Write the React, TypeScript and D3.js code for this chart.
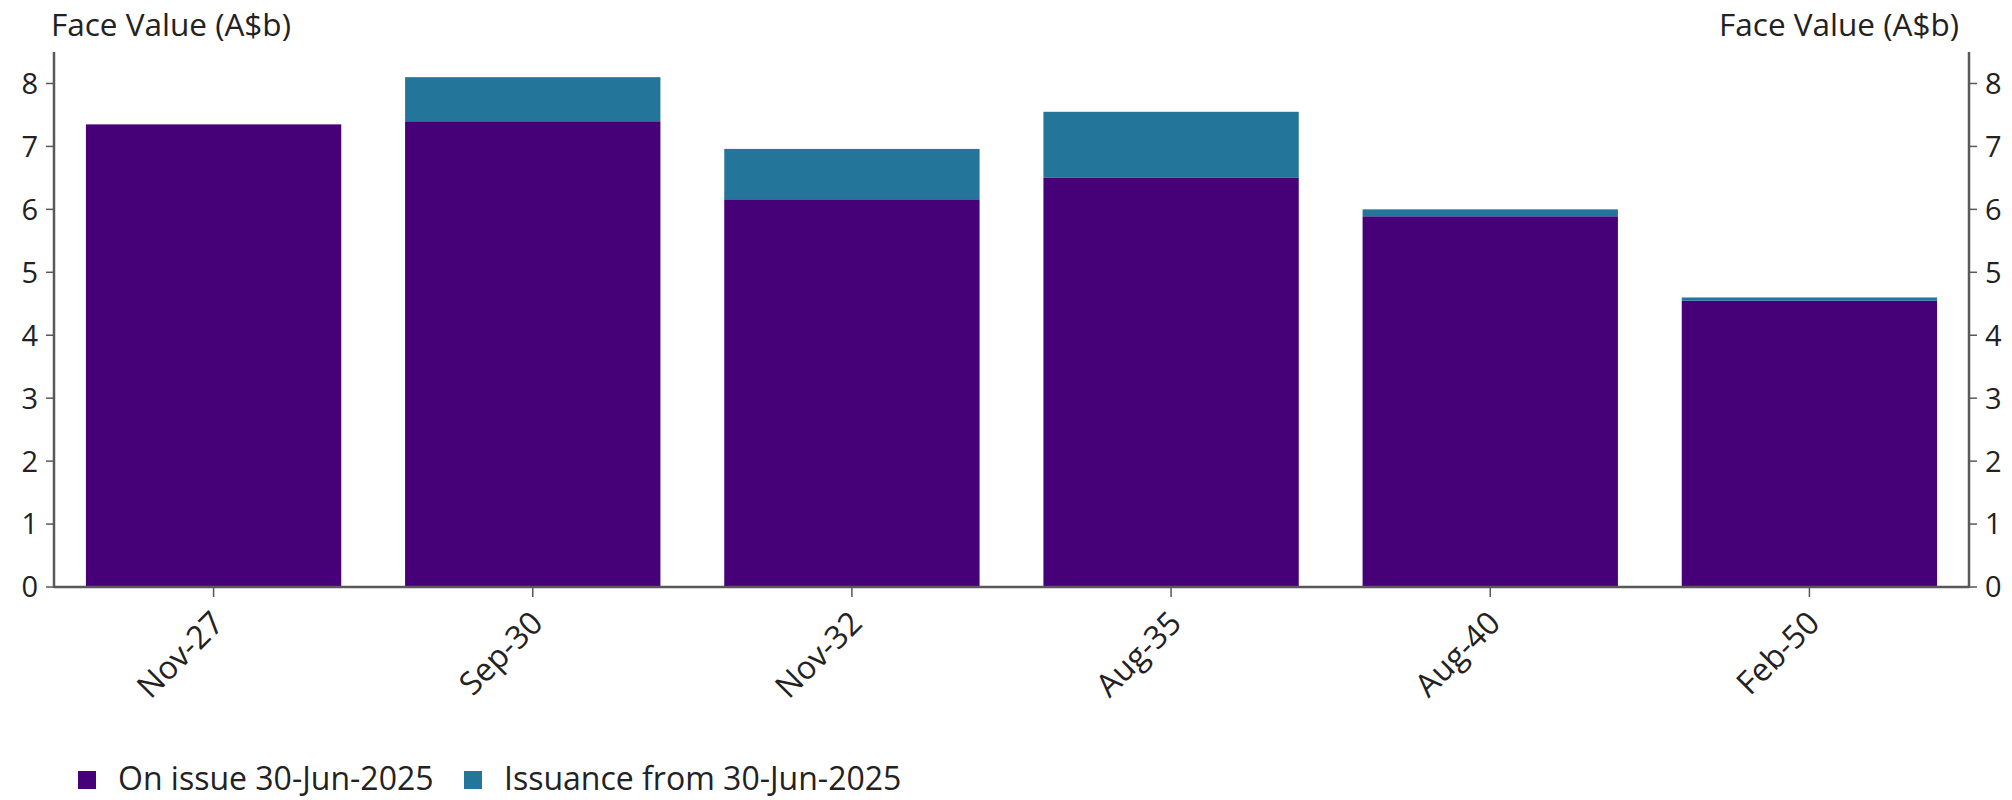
import React from "react";
import * as d3 from "d3";

const categories = ["Nov-27", "Sep-30", "Nov-32", "Aug-35", "Aug-40", "Feb-50"];
const onIssue = [7.35, 7.4, 6.16, 6.5, 5.89, 4.55];
const issuance = [0, 0.7, 0.8, 1.05, 0.11, 0.05];
const yTicks = [0, 1, 2, 3, 4, 5, 6, 7, 8];
const seriesNames = ["On issue 30-Jun-2025", "Issuance from 30-Jun-2025"];
const colors = ["#460078", "#237699"];

const W = 2012;
const H = 800;
const FONT = "'Open Sans', sans-serif";
const AXIS = "#595959";

export default function App() {
  const left = 54, right = 1969, top = 52, bottom = 587;
  const x = d3.scaleBand<string>().domain(categories).range([left, right]).paddingInner(0.2).paddingOuter(0.1);
  const y = d3.scaleLinear().domain([0, 8.5]).range([bottom, top]);
  const rows = categories.map((c, i) => ({ cat: c, onIssue: onIssue[i], issuance: issuance[i] }));
  const stack = d3.stack<any>().keys(["onIssue", "issuance"])(rows);

  return (
    <svg width={W} height={H} style={{ display: "block", position: "absolute", left: 0, top: 0 }} fontFamily={FONT}>
      <rect width={W} height={H} fill="#fff" />
      {stack.map((s, si) =>
        s.map((d, i) =>
          d[1] - d[0] > 0 ? (
            <rect key={`${si}-${i}`} x={x(categories[i])!} width={x.bandwidth()} y={y(d[1])} height={y(d[0]) - y(d[1])} fill={colors[si]} />
          ) : null
        )
      )}
      {/* axes */}
      <line x1={left} x2={left} y1={top} y2={bottom + 1} stroke={AXIS} strokeWidth={2.5} />
      <line x1={right} x2={right} y1={top} y2={bottom + 1} stroke={AXIS} strokeWidth={2.5} />
      <line x1={left} x2={right} y1={bottom} y2={bottom} stroke={AXIS} strokeWidth={2.5} />
      {yTicks.map((t) => (
        <g key={t}>
          <line x1={left - 8} x2={left} y1={y(t)} y2={y(t)} stroke={AXIS} strokeWidth={1.5} />
          <line x1={right} x2={right + 8} y1={y(t)} y2={y(t)} stroke={AXIS} strokeWidth={1.5} />
          <text x={38} y={y(t)} dy="0.36em" textAnchor="end" fontSize={29} fill="#222">{t}</text>
          <text x={1985} y={y(t)} dy="0.36em" textAnchor="start" fontSize={29} fill="#222">{t}</text>
        </g>
      ))}
      {categories.map((c) => {
        const cx = x(c)! + x.bandwidth() / 2;
        return (
          <g key={c}>
            <line x1={cx} x2={cx} y1={bottom} y2={bottom + 10} stroke={AXIS} strokeWidth={1.5} />
            <text transform={`translate(${cx + 12},${bottom + 38}) rotate(-45)`} textAnchor="end" fontSize={32} fill="#222">{c}</text>
          </g>
        );
      })}
      <text x={51} y={36} fontSize={31.5} fill="#222">Face Value (A$b)</text>
      <text x={1959} y={36} textAnchor="end" fontSize={31.5} fill="#222">Face Value (A$b)</text>
      {/* legend */}
      {seriesNames.map((n, i) => {
        const lx = i === 0 ? 78 : 464;
        return (
          <g key={n}>
            <rect x={lx} y={771} width={18} height={18} fill={colors[i]} />
            <text x={lx + 40} y={790} fontSize={32} fill="#222">{n}</text>
          </g>
        );
      })}
    </svg>
  );
}
